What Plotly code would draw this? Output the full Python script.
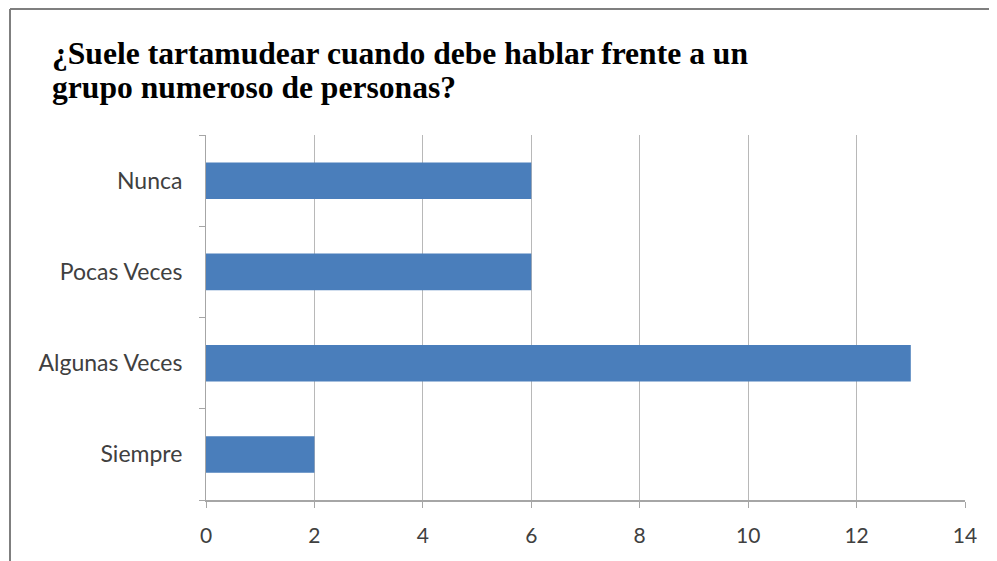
import plotly.graph_objects as go

categories = ["Nunca", "Pocas Veces", "Algunas Veces", "Siempre"]
values = [6, 6, 13, 2]
x_ticks = [0, 2, 4, 6, 8, 10, 12, 14]
title_lines = ["¿Suele tartamudear cuando debe hablar frente a un", "grupo numeroso de personas?"]

OFF = 8  # default page body margin
W, H = 997, 561
# target plot area in window pixels: x 206..965, y 135..500
L, T = 206 - OFF, 135 - OFF
R = W - (965 - OFF)
B = H - (500 - OFF)
pw, ph = W - L - R, H - T - B


def px_x(x):
    return (x - OFF - L) / pw


def px_y(y):
    return (H - B - (y - OFF)) / ph


fig = go.Figure(go.Bar(
    y=categories, x=values, orientation="h",
    marker=dict(color="#4A7EBB", line=dict(width=0)),
))

fig.update_layout(
    width=W, height=H, autosize=False,
    margin=dict(l=L, r=R, t=T, b=B),
    paper_bgcolor="white", plot_bgcolor="white",
    bargap=0.6, showlegend=False,
    font=dict(family="Lato, Open Sans, sans-serif", size=21, color="#404040"),
)

title_centers = [54, 87]
for line, yc in zip(title_lines, title_centers):
    fig.add_annotation(
        text=line, xref="paper", yref="paper", x=px_x(50), y=px_y(yc),
        xanchor="left", yanchor="middle", showarrow=False,
        font=dict(family="Liberation Serif, serif", size=31.6, color="#000000", weight="bold"),
    )

fig.update_xaxes(
    range=[0, 14], tickvals=x_ticks, ticktext=[str(v) for v in x_ticks],
    showgrid=True, gridcolor="#B8B8B8", gridwidth=1,
    showline=True, linecolor="#A6A6A6", linewidth=2,
    ticks="outside", ticklen=6, tickcolor="#A6A6A6",
    ticklabelstandoff=10, zeroline=False, fixedrange=True,
)
fig.update_yaxes(
    categoryorder="array", categoryarray=categories[::-1],
    showgrid=False, showline=True, linecolor="#A6A6A6", linewidth=1,
    ticks="outside", ticklen=6, tickcolor="#A6A6A6", tickson="boundaries",
    ticklabelstandoff=18, fixedrange=True, tickfont=dict(size=23),
)

# outer chart border (top and left visible)
fig.add_shape(type="line", xref="paper", yref="paper",
              x0=px_x(10), x1=px_x(1005), y0=px_y(9), y1=px_y(9),
              line=dict(color="#7F7F7F", width=2))
fig.add_shape(type="line", xref="paper", yref="paper",
              x0=px_x(10), x1=px_x(10), y0=px_y(9), y1=px_y(570),
              line=dict(color="#7F7F7F", width=2))

fig.write_html("out.html")
